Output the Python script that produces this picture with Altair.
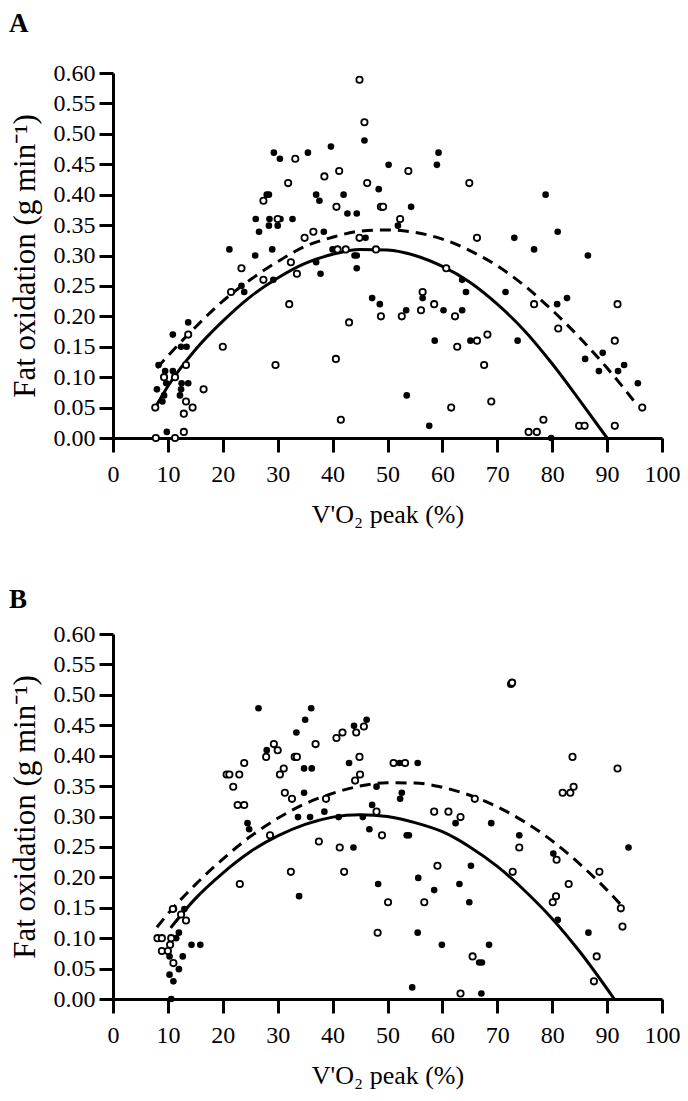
import altair as alt
import pandas as pd

# ---------------- Panel A data ----------------
A_filled_x = [45.8, 50.2, 29.3, 30.4, 35.5, 39.7, 48.4, 28.0, 28.4, 37.0, 37.6, 42.0, 42.7, 44.4, 26.0, 28.5,
              30.5, 32.7, 26.6, 28.4, 30.0, 38.4, 46.0, 21.2, 25.9, 29.0, 40.0, 44.0, 44.4,
              59.3, 59.0, 54.3, 51.9, 78.8, 73.1, 81.0, 76.7, 86.5,
              23.9, 23.4, 29.2, 37.0, 37.8, 44.4, 47.2, 48.6, 8.3, 10.9, 13.7, 12.4, 13.4, 9.5, 10.9, 9.7,
              8.0, 12.5, 13.7, 12.4, 9.3, 12.2, 9.0, 9.8,
              63.6, 64.3, 71.5, 56.4, 53.4, 60.2, 63.6, 80.9, 82.7, 58.6, 65.1, 73.7, 86.0, 89.2, 88.5,
              92.0, 93.1, 95.6, 53.5, 57.6, 79.8]
A_filled_y = [0.489, 0.449, 0.469, 0.459, 0.469, 0.479, 0.409, 0.40, 0.40, 0.40, 0.39, 0.40, 0.369, 0.369, 0.36, 0.36,
              0.36, 0.36, 0.339, 0.349, 0.349, 0.339, 0.329, 0.31, 0.30, 0.31, 0.31, 0.30, 0.30,
              0.469, 0.449, 0.38, 0.349, 0.40, 0.329, 0.339, 0.31, 0.30,
              0.24, 0.25, 0.26, 0.289, 0.27, 0.279, 0.23, 0.22, 0.12, 0.17, 0.19, 0.15, 0.15, 0.11, 0.11, 0.09,
              0.08, 0.09, 0.09, 0.08, 0.07, 0.07, 0.06, 0.01,
              0.26, 0.24, 0.24, 0.23, 0.21, 0.21, 0.21, 0.22, 0.23, 0.16, 0.16, 0.16, 0.13, 0.14, 0.11,
              0.11, 0.12, 0.09, 0.07, 0.02, 0.00]
A_open_x = [44.9, 45.8, 33.2, 41.2, 38.5, 31.9, 46.3, 27.4, 40.7, 48.8, 49.2, 30.0, 34.9, 36.5, 44.9, 40.9,
            42.4, 47.9,
            53.8, 64.9, 52.3, 66.3,
            23.4, 32.4, 27.4, 33.5, 48.8, 21.5, 32.1, 43.0, 20.0, 29.6, 40.6, 41.5, 16.5, 13.7, 13.3, 9.3,
            11.3, 7.7, 13.3, 14.5, 12.9, 12.9, 7.8, 11.3,
            60.7, 56.4, 58.5, 52.6, 56.1, 62.3, 76.7, 91.9, 81.1, 66.3, 68.2, 62.7, 91.4, 67.6, 96.4, 61.6,
            68.9, 75.7, 77.2, 78.4, 84.9, 85.9, 91.4]
A_open_y = [0.589, 0.519, 0.459, 0.439, 0.43, 0.419, 0.419, 0.39, 0.38, 0.38, 0.38, 0.36, 0.329, 0.339, 0.329, 0.31,
            0.31, 0.31,
            0.439, 0.419, 0.36, 0.329,
            0.279, 0.289, 0.26, 0.27, 0.20, 0.24, 0.22, 0.19, 0.15, 0.12, 0.13, 0.03, 0.08, 0.17, 0.12, 0.10,
            0.10, 0.05, 0.06, 0.05, 0.04, 0.01, 0.00, 0.00,
            0.279, 0.24, 0.22, 0.20, 0.21, 0.20, 0.22, 0.22, 0.18, 0.16, 0.17, 0.15, 0.16, 0.12, 0.05, 0.05,
            0.06, 0.01, 0.01, 0.03, 0.02, 0.02, 0.02]
A_solid_x = [8, 10, 15, 20, 25, 30, 35, 40, 45, 50, 55, 60, 65, 70, 75, 80, 85, 90]
A_solid_y = [0.055, 0.085, 0.145, 0.192, 0.232, 0.263, 0.287, 0.302, 0.310, 0.309, 0.300, 0.282, 0.256,
             0.220, 0.176, 0.122, 0.062, 0.0]
A_dash_x = [8, 10, 15, 20, 25, 30, 35, 40, 45, 50, 55, 60, 65, 70, 75, 80, 85, 90, 95.5]
A_dash_y = [0.115, 0.135, 0.182, 0.225, 0.26, 0.29, 0.315, 0.33, 0.34, 0.342, 0.338, 0.327, 0.308, 0.283,
            0.25, 0.21, 0.165, 0.115, 0.054]

# ---------------- Panel B data ----------------
B_filled_x = [26.5, 36.1, 35.0, 46.2, 43.9, 33.4, 28.0, 43.0, 34.8, 36.2, 34.8, 48.0, 47.2,
              52.2, 55.5, 52.6, 52.3,
              24.5, 24.8, 33.7, 35.9, 38.5, 41.1, 45.5, 46.7, 43.8, 33.9, 48.3, 11.1, 13.0, 12.0, 11.5,
              14.3, 15.9, 10.3, 12.7, 12.0, 10.3, 11.0, 10.6,
              62.4, 68.9, 53.5, 53.9, 74.0, 80.2, 93.9, 65.2, 55.6, 58.5, 63.1, 64.9, 81.0, 55.5, 86.6,
              59.9, 68.5, 66.7, 67.2, 54.5, 67.1]
B_filled_y = [0.478, 0.478, 0.459, 0.459, 0.449, 0.438, 0.409, 0.388, 0.379, 0.379, 0.339, 0.349, 0.319,
              0.388, 0.388, 0.339, 0.329,
              0.289, 0.279, 0.299, 0.299, 0.308, 0.299, 0.299, 0.279, 0.249, 0.169, 0.189, 0.148, 0.148,
              0.109, 0.10, 0.089, 0.089, 0.07, 0.07, 0.049, 0.04, 0.029, 0.0,
              0.289, 0.289, 0.269, 0.269, 0.269, 0.239, 0.249, 0.219, 0.199, 0.179, 0.189, 0.159, 0.13,
              0.109, 0.109, 0.089, 0.089, 0.06, 0.06, 0.019, 0.009]
B_open_x = [45.7, 41.8, 40.7, 44.3, 29.3, 30.0, 27.9, 36.9, 33.1, 33.5, 44.9, 23.9, 20.7, 21.2, 23.0, 21.9,
            22.7, 23.9, 31.1, 30.4, 45.0, 44.1, 31.3, 32.6, 38.8, 51.1,
            72.5, 72.7, 53.2, 65.9, 83.7, 91.9, 83.9, 81.9, 83.3,
            28.6, 48.0, 49.0, 37.5, 41.3, 32.4, 42.1, 23.1, 50.1, 48.2, 10.9, 12.4, 13.3, 8.1, 8.9, 10.6,
            10.4, 8.9, 10.0, 11.0,
            58.5, 61.1, 63.3, 74.0, 80.8, 59.1, 72.8, 88.6, 83.0, 80.7, 80.1, 56.7, 92.5, 92.8, 65.5,
            88.1, 87.6, 63.3]
B_open_y = [0.448, 0.438, 0.429, 0.438, 0.419, 0.409, 0.398, 0.419, 0.398, 0.398, 0.398, 0.388, 0.369, 0.369,
            0.369, 0.349, 0.319, 0.319, 0.379, 0.369, 0.369, 0.359, 0.339, 0.329, 0.329, 0.388,
            0.518, 0.52, 0.388, 0.329, 0.398, 0.379, 0.349, 0.339, 0.339,
            0.269, 0.308, 0.269, 0.259, 0.249, 0.209, 0.209, 0.189, 0.159, 0.109, 0.148, 0.139, 0.129,
            0.10, 0.10, 0.10, 0.089, 0.079, 0.079, 0.059,
            0.308, 0.308, 0.299, 0.249, 0.229, 0.219, 0.209, 0.209, 0.189, 0.169, 0.159, 0.159, 0.149,
            0.119, 0.07, 0.07, 0.029, 0.009]
B_solid_x = [10.5, 15, 20, 25, 30, 35, 40, 45, 50, 55, 60, 65, 70, 75, 80, 85, 91.3]
B_solid_y = [0.117, 0.165, 0.207, 0.242, 0.268, 0.287, 0.299, 0.303, 0.300, 0.290, 0.275, 0.250, 0.218,
             0.178, 0.132, 0.078, 0.0]
B_dash_x = [8, 10, 15, 20, 25, 30, 35, 40, 45, 50, 55, 60, 65, 70, 75, 80, 85, 90, 92.5]
B_dash_y = [0.118, 0.14, 0.188, 0.23, 0.267, 0.297, 0.321, 0.338, 0.35, 0.3555, 0.355, 0.348, 0.335, 0.316,
            0.291, 0.26, 0.222, 0.179, 0.155]

x_ticks = list(range(0, 101, 10))
y_ticks = [round(i * 0.05, 2) for i in range(13)]

FONT = "Liberation Serif"


def panel(letter, fx, fy, ox, oy, sx, sy, dx, dy, title_offset):
    filled = pd.DataFrame({"x": fx, "y": fy})
    opened = pd.DataFrame({"x": ox, "y": oy})
    solid = pd.DataFrame({"x": sx, "y": sy})
    dash = pd.DataFrame({"x": dx, "y": dy})

    xenc = alt.X("x:Q", scale=alt.Scale(domain=[0, 100], nice=False),
                 axis=alt.Axis(values=x_ticks, title="V'O\u2082 peak (%)", format="d", labelFlush=False))
    yenc = alt.Y("y:Q", scale=alt.Scale(domain=[0, 0.6], nice=False),
                 axis=alt.Axis(values=y_ticks, title="Fat oxidation (g min\u207b\u00b9)", format=".2f",
                               labelFlush=False))

    l_solid = alt.Chart(solid).mark_line(color="black", strokeWidth=3, interpolate="monotone").encode(
        x=xenc, y=yenc)
    l_dash = alt.Chart(dash).mark_line(color="black", strokeWidth=3, strokeDash=[11, 7],
                                       interpolate="monotone").encode(x=xenc, y=yenc)
    p_filled = alt.Chart(filled).mark_circle(color="black", size=44, opacity=1).encode(x=xenc, y=yenc)
    p_open = alt.Chart(opened).mark_point(shape="circle", filled=True, fill="white", stroke="black",
                                          strokeWidth=1.8, size=40, opacity=1).encode(x=xenc, y=yenc)

    return alt.layer(l_solid, l_dash, p_filled, p_open).properties(
        width=549, height=365,
        title=alt.TitleParams(letter, anchor="start", frame="bounds", font=FONT, fontSize=27,
                              fontWeight="bold", color="black", offset=title_offset),
    )


chart_a = panel("A", A_filled_x, A_filled_y, A_open_x, A_open_y, A_solid_x, A_solid_y, A_dash_x, A_dash_y, 23)
chart_b = panel("B", B_filled_x, B_filled_y, B_open_x, B_open_y, B_solid_x, B_solid_y, B_dash_x, B_dash_y, 8)

chart = (
    alt.vconcat(chart_a, chart_b, spacing=59)
    .configure_view(stroke=None)
    .configure_axis(
        labelFont=FONT, labelFontSize=24, labelColor="black",
        titleFont=FONT, titleFontWeight="normal", titleColor="black",
        domainColor="black", domainWidth=3, tickColor="black", tickWidth=3, tickSize=14, grid=False,
    )
    .configure_axisX(labelPadding=10, titlePadding=15, titleFontSize=26)
    .configure_axisY(labelPadding=4, titlePadding=12, titleFontSize=31)
    .properties(padding={"left": 1, "top": 2, "right": 0, "bottom": 2})
)

chart.save("out.html", embed_options={"renderer": "svg", "actions": False})
